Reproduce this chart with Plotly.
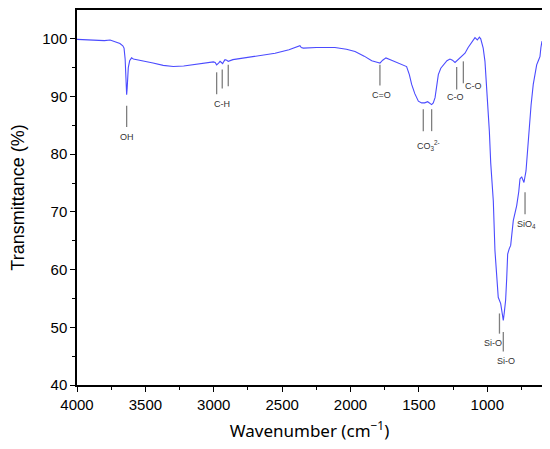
import plotly.graph_objects as go

# FTIR spectrum (wavenumber in cm-1, transmittance in %)
wavenumber = [
    4000, 3900, 3800, 3758, 3700, 3686, 3665, 3656, 3648, 3644, 3640, 3637,
    3633, 3629, 3625, 3615, 3601, 3588, 3520, 3444, 3370, 3296, 3220, 3150,
    3060, 3003, 2990, 2979, 2965, 2954, 2944, 2935, 2926, 2918, 2905, 2894,
    2860, 2808, 2700, 2552, 2450, 2380, 2370, 2360, 2345, 2250, 2114, 2030,
    1967, 1900, 1845, 1800, 1785, 1765, 1750, 1741, 1700, 1651, 1610, 1590,
    1570, 1553, 1530, 1504, 1480, 1458, 1436, 1420, 1407, 1395, 1382, 1370,
    1358, 1340, 1322, 1295, 1273, 1255, 1236, 1218, 1200, 1180, 1163, 1140,
    1114, 1100, 1090, 1073, 1058, 1048, 1041, 1030, 1017, 1005, 995, 985,
    975, 965, 956, 944, 930, 920, 902, 893, 883, 876, 866, 858,
    851, 840, 829, 810, 798, 785, 770, 761, 749, 742, 732, 717,
    707, 700, 680, 664, 650, 639, 627, 615, 608, 603, 600,
]
transmittance = [
    99.9, 99.8, 99.7, 99.8, 99.4, 99.2, 98.8, 98.4, 96.5, 94.9, 92.0, 90.3,
    91.5, 93.5, 95.0, 96.2, 96.7, 96.5, 96.2, 95.8, 95.4, 95.2, 95.3, 95.5,
    95.8, 96.0, 95.9, 95.5, 95.8, 96.1, 95.9, 95.7, 96.1, 96.4, 96.3, 96.1,
    96.4, 96.6, 96.9, 97.5, 98.1, 98.6, 98.8, 98.5, 98.4, 98.5, 98.5, 98.2,
    97.8, 97.0, 96.2, 95.9, 95.8, 96.3, 96.6, 96.7, 96.3, 95.8, 95.5, 95.2,
    93.8, 92.1, 90.5, 89.2, 88.9, 88.9, 89.1, 88.9, 88.6, 88.9, 89.8, 91.8,
    93.8, 94.9, 95.5, 96.2, 96.5, 96.3, 95.9, 96.3, 96.7, 97.1, 97.5, 98.5,
    99.5, 99.9, 100.2, 99.8, 100.3, 100.0, 99.5, 98.4, 96.1, 92.0, 88.5, 84.0,
    78.5, 74.0, 71.9, 63.3, 58.0, 55.2, 54.1, 52.8, 51.2, 52.5, 54.7, 58.5,
    62.7, 63.6, 64.2, 68.5, 69.8, 71.1, 73.5, 75.7, 76.1, 75.5, 75.1, 77.1,
    80.6, 83.4, 88.5, 92.1, 94.3, 95.5, 96.2, 96.9, 98.5, 99.5, 99.6,
]

# peak marker lines: wavenumber, top and bottom of the tick
peak_wn = [3637, 2979, 2938, 2894, 1785, 1468, 1407, 1224, 1175, 911, 883, 724]
peak_top = [88.4, 94.2, 94.7, 95.5, 95.5, 87.8, 87.8, 95.1, 96.1, 52.4, 49.2, 73.4]
peak_bot = [84.7, 90.4, 91.4, 91.8, 91.9, 84.0, 84.0, 91.2, 92.3, 48.9, 45.8, 69.6]

# band labels: text, wavenumber, transmittance
label_text = ["OH", "C-H", "C=O", "CO<sub>3</sub><sup>2-</sup>", "C-O", "C-O",
              "Si-O", "Si-O", "SiO<sub>4</sub>"]
label_wn = [3634, 2940, 1772, 1430, 1229, 1100, 960, 866, 712]
label_y = [83.0, 88.7, 90.2, 81.6, 89.9, 91.9, 47.3, 44.2, 67.9]

fig = go.Figure()

fig.add_trace(go.Scatter(
    x=wavenumber, y=transmittance, mode="lines",
    line=dict(color="#4b4bff", width=1.1),
    showlegend=False, hoverinfo="skip",
))

for wn, top, bot in zip(peak_wn, peak_top, peak_bot):
    fig.add_shape(type="line", x0=wn, x1=wn, y0=bot, y1=top,
                  line=dict(color="#7f7f7f", width=1.3))

for txt, wn, yv in zip(label_text, label_wn, label_y):
    fig.add_annotation(x=wn, y=yv, text=txt, showarrow=False,
                       font=dict(family="Liberation Sans, Arial", size=9, color="#333333"))

axis_common = dict(
    showline=True, linecolor="black", linewidth=1.5, mirror=True,
    ticks="outside", ticklen=5, tickwidth=1.2, tickcolor="black",
    showgrid=False, zeroline=False,
    tickfont=dict(family="Liberation Sans, Arial", size=15, color="black"),
)

fig.update_xaxes(
    range=[4000, 600], tickmode="array",
    tickvals=[4000, 3500, 3000, 2500, 2000, 1500, 1000],
    minor=dict(tickvals=[3750, 3250, 2750, 2250, 1750, 1250, 750],
               ticks="outside", ticklen=3, tickcolor="black", tickwidth=1.2),
    title=dict(text="Wavenumber (cm<sup>\u22121</sup>)", standoff=13,
               font=dict(family="Noto Sans, Open Sans", size=17, color="black")),
    **axis_common,
)
fig.update_yaxes(
    range=[40, 105], tickmode="array",
    tickvals=[40, 50, 60, 70, 80, 90, 100],
    minor=dict(tickvals=[45, 55, 65, 75, 85, 95],
               ticks="outside", ticklen=3, tickcolor="black", tickwidth=1.2),
    title=dict(text="Transmittance (%)", standoff=16,
               font=dict(family="Liberation Sans, Arial", size=18, color="black")),
    **axis_common,
)

# the page body adds an 8 px margin, so the figure is shrunk by that amount
fig.update_layout(
    width=542, height=441,
    margin=dict(l=69, r=8, t=0, b=64),
    plot_bgcolor="white", paper_bgcolor="white",
)

fig.write_html("out.html")
